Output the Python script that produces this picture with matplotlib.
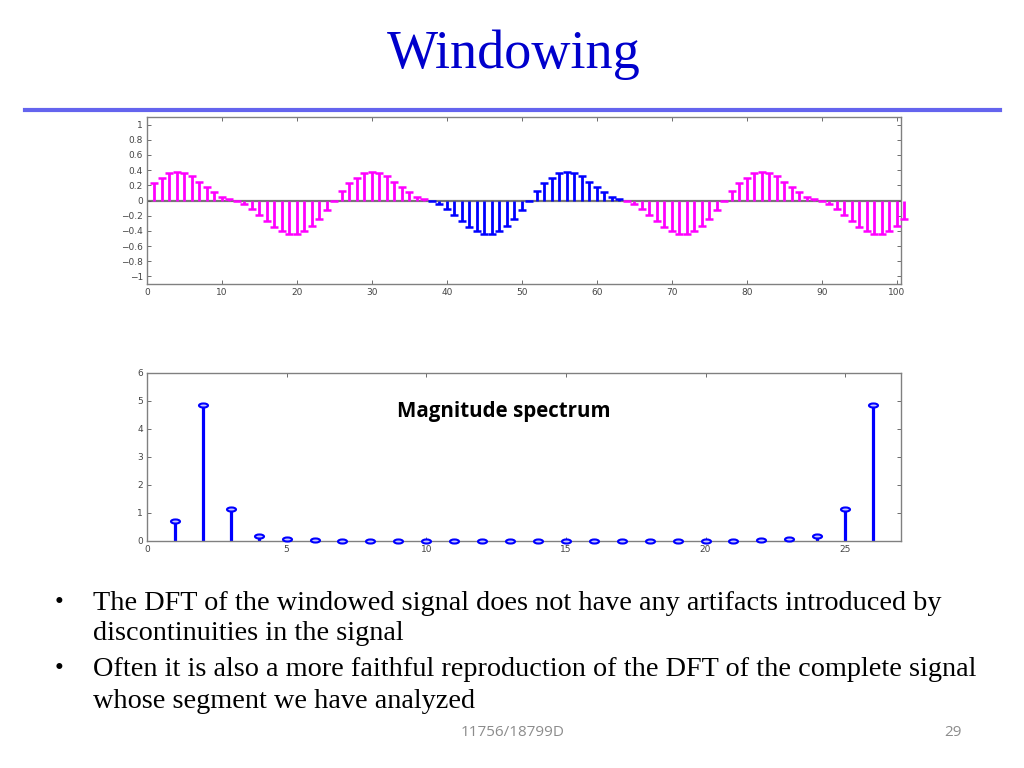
import matplotlib
matplotlib.use("Agg")
import matplotlib.pyplot as plt
import numpy as np
from matplotlib.path import Path

# ---------------- data ----------------
title_text = "Windowing"
spectrum_label = "Magnitude spectrum"

# windowed signal, samples n = 1..101
signal_values = [
    0.23, 0.30, 0.36, 0.38, 0.36, 0.32, 0.25, 0.18, 0.11, 0.05, 0.02, -0.01, -0.04,
    -0.11, -0.19, -0.27, -0.35, -0.40, -0.44, -0.44, -0.40, -0.34, -0.24, -0.12, 0.00, 0.12,
    0.23, 0.30, 0.36, 0.38, 0.36, 0.32, 0.25, 0.18, 0.11, 0.05, 0.02, -0.01, -0.04,
    -0.11, -0.19, -0.27, -0.35, -0.40, -0.44, -0.44, -0.40, -0.34, -0.24, -0.12, 0.00, 0.12,
    0.23, 0.30, 0.36, 0.38, 0.36, 0.32, 0.25, 0.18, 0.11, 0.05, 0.02, -0.01, -0.04,
    -0.11, -0.19, -0.27, -0.35, -0.40, -0.44, -0.44, -0.40, -0.34, -0.24, -0.12, 0.00, 0.12,
    0.23, 0.30, 0.36, 0.38, 0.36, 0.32, 0.25, 0.18, 0.11, 0.05, 0.02, -0.01, -0.04,
    -0.11, -0.19, -0.27, -0.35, -0.40, -0.44, -0.44, -0.40, -0.34, -0.24,
]
signal_index = list(range(1, 102))
blue_segment = (38, 63)   # samples drawn in blue (one analysed segment)

# magnitude spectrum, bins n = 1..26
spectrum_index = list(range(1, 27))
spectrum_values = [0.71, 4.87, 1.15, 0.19, 0.06, 0.035, 0.01, 0.01, 0.01, 0.01, 0.01,
                   0.01, 0.01, 0.01, 0.01, 0.01, 0.01, 0.01, 0.01, 0.01, 0.01,
                   0.035, 0.07, 0.19, 1.15, 4.87]

top_xticks = [0, 10, 20, 30, 40, 50, 60, 70, 80, 90, 100]
top_yticks = [-1, -0.8, -0.6, -0.4, -0.2, 0, 0.2, 0.4, 0.6, 0.8, 1]
top_yticklabels = ["\u22121", "\u22120.8", "\u22120.6", "\u22120.4", "\u22120.2", "0",
                   "0.2", "0.4", "0.6", "0.8", "1"]
bot_xticks = [0, 5, 10, 15, 20, 25]
bot_yticks = [0, 1, 2, 3, 4, 5, 6]

bullets = [
    ["The DFT of the windowed signal does not have any artifacts introduced by",
     "discontinuities in the signal"],
    ["Often it is also a more faithful reproduction of the DFT of the complete signal",
     "whose segment we have analyzed"],
]
footer_text = "11756/18799D"
page_number = "29"

# ---------------- figure ----------------
W, H = 1024, 768
fig = plt.figure(figsize=(W / 100, H / 100), dpi=100)
fig.patch.set_facecolor("white")

def px_axes(left, top, right, bottom):
    return fig.add_axes([left / W, 1 - bottom / H, (right - left) / W, (bottom - top) / H])

MAG = "#ff00ff"
BLUE = "#0000ff"
SPINE = "#808080"

def style_axes(ax):
    for s in ax.spines.values():
        s.set_color(SPINE)
        s.set_linewidth(1.0)
    ax.tick_params(direction="in", length=3, width=0.6, color="#555555",
                   labelsize=6.5, labelcolor="#444444",
                   top=True, right=True, pad=3)
    for lab in ax.get_xticklabels() + ax.get_yticklabels():
        lab.set_family(["DejaVu Sans"])
    ax.set_facecolor("white")

# ---- top: windowed signal ----
ax1 = px_axes(147, 117, 901, 284)
n = np.array(signal_index)
v = np.array(signal_values)
ax1.axhline(0, color="#777777", lw=1.6, zorder=1)
for mask, col in [((n < blue_segment[0]) | (n > blue_segment[1]), MAG),
                  ((n >= blue_segment[0]) & (n <= blue_segment[1]), BLUE)]:
    ax1.vlines(n[mask], 0, v[mask], color=col, lw=2.0, zorder=2, clip_on=False)
    ax1.plot(n[mask], v[mask], linestyle="none", marker="_", markersize=5.5,
             markeredgewidth=1.8, color=col, zorder=3, clip_on=False)
ax1.set_xlim(0, 100.55)
ax1.set_ylim(-1.1, 1.1)
ax1.set_xticks(top_xticks)
ax1.set_yticks(top_yticks)
ax1.set_yticklabels(top_yticklabels)
style_axes(ax1)

# ---- bottom: magnitude spectrum ----
ax2 = px_axes(147, 373, 901, 541)
circ = Path.unit_circle()
flat_o = Path(circ.vertices * np.array([1.0, 0.45]), circ.codes)
ax2.vlines(spectrum_index, 0, spectrum_values, color=BLUE, lw=2.3, zorder=2)
ax2.plot(spectrum_index, spectrum_values, linestyle="none", marker=flat_o,
         markersize=6.5, markerfacecolor="#c8c8ff", markeredgecolor=BLUE,
         markeredgewidth=1.5, zorder=3, clip_on=False)
ax2.set_xlim(0, 27)
ax2.set_ylim(0, 6)
ax2.set_xticks(bot_xticks)
ax2.set_yticks(bot_yticks)
style_axes(ax2)
ax2.text(504 / W, 1 - 411 / H, spectrum_label, transform=fig.transFigure,
         ha="center", va="center", fontsize=14.8, fontweight="bold",
         family=["Open Sans", "DejaVu Sans"], color="black")

# ---- slide decorations ----
fig.text(514 / W, 1 - 55 / H, title_text, ha="center", va="center",
         fontsize=39, family=["Liberation Serif", "DejaVu Serif"], color="#0000cc")
fig.add_artist(plt.Line2D([25 / W, 1000 / W], [1 - 110 / H, 1 - 110 / H],
                          color="#6464ee", lw=3.0, transform=fig.transFigure))

line_y = [[603, 633], [669, 701]]
for b, ys in zip(bullets, line_y):
    fig.text(55 / W, 1 - ys[0] / H, "\u2022", ha="left", va="center", fontsize=18,
             family=["Liberation Serif", "DejaVu Serif"], color="black")
    for t, y in zip(b, ys):
        fig.text(93 / W, 1 - y / H, t, ha="left", va="center", fontsize=20.3,
                 family=["Liberation Serif", "DejaVu Serif"], color="black")

fig.text(513 / W, 1 - 733 / H, footer_text, ha="center", va="center", fontsize=11,
         family=["Open Sans", "DejaVu Sans"], color="#8c8c8c")
fig.text(953 / W, 1 - 733 / H, page_number, ha="center", va="center", fontsize=11,
         family=["Open Sans", "DejaVu Sans"], color="#8c8c8c")

fig.savefig("out.png", dpi=100, facecolor="white")
